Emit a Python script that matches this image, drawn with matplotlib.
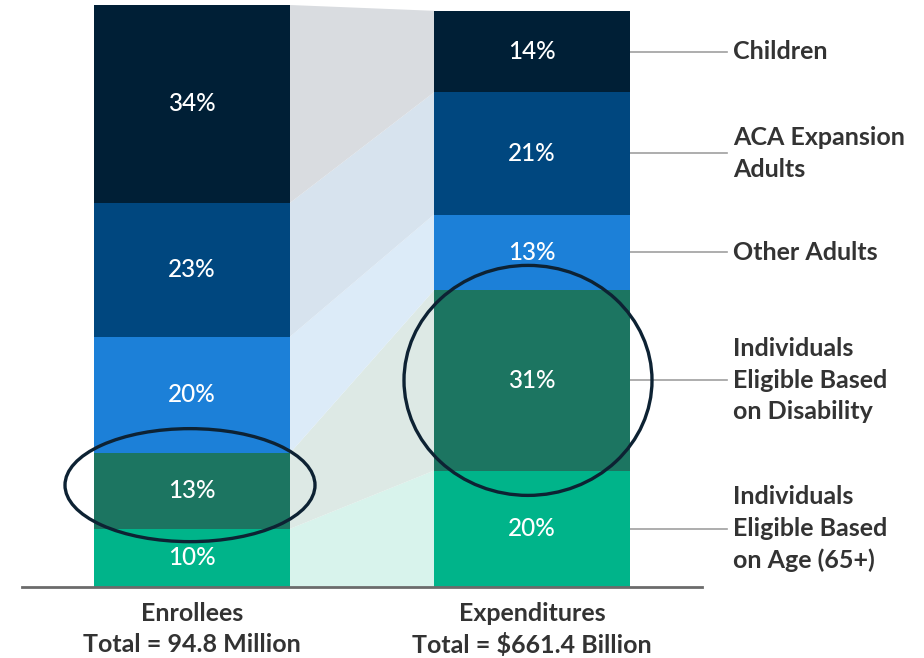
import matplotlib

matplotlib.use('Agg')
import matplotlib.pyplot as plt
from matplotlib.patches import Ellipse, Polygon
import numpy as np

plt.rcParams['font.family'] = ['Lato', 'DejaVu Sans']

# data (bottom to top)
groups = ['Individuals\nEligible Based\non Age (65+)',
          'Individuals\nEligible Based\non Disability',
          'Other Adults',
          'ACA Expansion\nAdults',
          'Children']
enrollees = [10, 13, 20, 23, 34]
expenditures = [20, 31, 13, 21, 14]
bar_names = ['Enrollees\nTotal = 94.8 Million',
             'Expenditures\nTotal = $661.4 Billion']

colors = ['#00b48a', '#1c7561', '#1c80d8', '#00477f', '#001f36']
light = ['#d8f3ec', '#dde9e5', '#dcebf8', '#d7e3ee', '#d9dce0']

W, H = 924, 658
fig = plt.figure(figsize=(W / 100, H / 100), dpi=100)
base_px, top_px = 587, 5
ax = fig.add_axes([0, (H - base_px) / H, 1, (base_px - top_px) / H])
ax.set_xlim(0, W)
ax.set_ylim(0, 100)
ax.axis('off')
px_per_pct = (base_px - top_px) / 100

bar_w = 196
x_left, x_right = 94 + bar_w / 2, 434 + bar_w / 2

bot_l = np.concatenate([[0], np.cumsum(enrollees)[:-1]])
bot_r = np.concatenate([[0], np.cumsum(expenditures)[:-1]])

# connectors between the bars
for i in range(len(groups)):
    xs = [x_left + bar_w / 2, x_right - bar_w / 2]
    poly = Polygon([(xs[0], bot_l[i]), (xs[0], bot_l[i] + enrollees[i]),
                    (xs[1], bot_r[i] + expenditures[i]), (xs[1], bot_r[i])],
                   closed=True, facecolor=light[i], edgecolor='none', zorder=1)
    ax.add_patch(poly)

ax.bar(x_left, enrollees, bottom=bot_l, width=bar_w, color=colors, zorder=2)
ax.bar(x_right, expenditures, bottom=bot_r, width=bar_w, color=colors, zorder=2)

for x, vals, bots in [(x_left, enrollees, bot_l), (x_right, expenditures, bot_r)]:
    for v, b in zip(vals, bots):
        ax.text(x, b + v / 2, f'{v}%', color='white', fontsize=17.5,
                fontweight='medium', ha='center', va='center', zorder=4)

# leader lines + category labels
for g, v, b in zip(groups, expenditures, bot_r):
    yc = b + v / 2
    ax.plot([x_right + bar_w / 2, 727], [yc, yc], color='#a0a0a0', lw=1.2, zorder=1)
    ax.text(733, yc, g, fontsize=18, fontweight='bold', color='#333333',
            ha='left', va='center', linespacing=1.45)

# baseline
ax.plot([22, 702], [0, 0], color='#6b6b6b', lw=2, clip_on=False, zorder=3)

for x, name in zip([x_left, x_right], bar_names):
    ax.text(x, -2.6, name, fontsize=18, fontweight='bold', color='#333333',
            ha='center', va='top', linespacing=1.4, clip_on=False)

# highlight ellipses around the disability segments
ax.add_patch(Ellipse((x_left - 2, bot_l[1] + enrollees[1] / 2 + 1.0), 250,
                     113 / px_per_pct, fill=False, edgecolor='#0d2233', lw=2.4, zorder=5))
ax.add_patch(Ellipse((x_right - 4, bot_r[1] + expenditures[1] / 2), 248,
                     230 / px_per_pct, fill=False, edgecolor='#0d2233', lw=2.4, zorder=5))

fig.savefig('out.png', dpi=100, facecolor='white')
